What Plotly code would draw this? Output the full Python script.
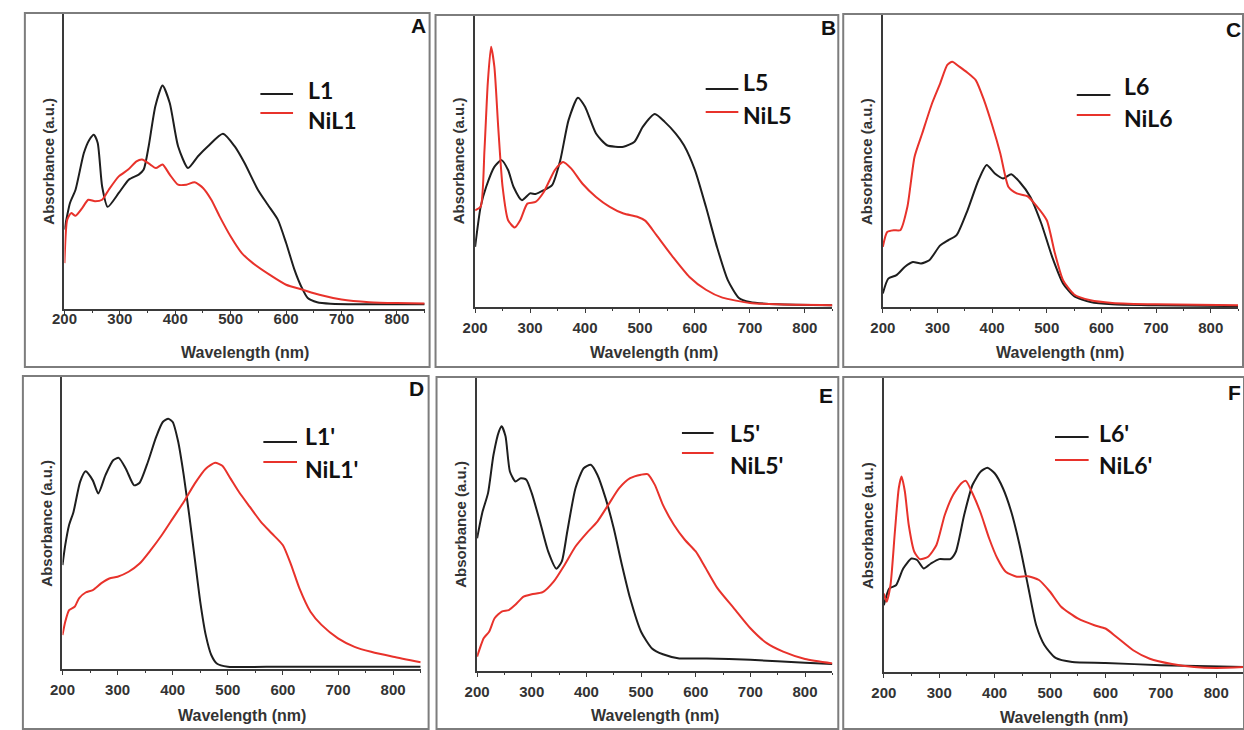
import plotly.graph_objects as go

# ---------------- DATA ----------------
# Panel A
A_L1_nm = [200, 210, 220, 235, 245, 253, 260, 268, 278, 298, 316, 334, 343, 352, 364, 377, 390, 405, 423, 441, 459, 486, 507, 525, 549, 567, 585, 600, 615, 627, 639, 656, 680, 750, 850]
A_L1 = [0.268, 0.358, 0.403, 0.527, 0.572, 0.589, 0.561, 0.414, 0.345, 0.392, 0.437, 0.454, 0.471, 0.550, 0.685, 0.755, 0.696, 0.550, 0.476, 0.516, 0.550, 0.592, 0.550, 0.493, 0.403, 0.352, 0.302, 0.223, 0.133, 0.077, 0.037, 0.023, 0.018, 0.016, 0.016]
A_NiL1_nm = [200, 205, 212, 220, 232, 243, 255, 268, 280, 298, 315, 330, 340, 355, 365, 377, 390, 405, 420, 435, 450, 465, 480, 500, 520, 540, 570, 600, 630, 660, 700, 750, 800, 850]
A_NiL1 = [0.155, 0.302, 0.324, 0.315, 0.341, 0.369, 0.364, 0.369, 0.403, 0.448, 0.471, 0.499, 0.505, 0.488, 0.476, 0.488, 0.454, 0.420, 0.420, 0.428, 0.409, 0.369, 0.313, 0.245, 0.189, 0.155, 0.116, 0.082, 0.065, 0.048, 0.032, 0.023, 0.020, 0.019]

# Panel B
B_L5_nm = [200, 210, 220, 235, 248, 260, 270, 285, 300, 310, 325, 340, 355, 370, 387, 400, 420, 440, 470, 490, 505, 527, 545, 565, 580, 600, 620, 640, 660, 680, 700, 750, 850]
B_L5 = [0.206, 0.343, 0.411, 0.480, 0.503, 0.469, 0.411, 0.366, 0.389, 0.387, 0.400, 0.417, 0.503, 0.640, 0.717, 0.686, 0.594, 0.554, 0.549, 0.566, 0.617, 0.661, 0.634, 0.594, 0.554, 0.469, 0.343, 0.206, 0.091, 0.031, 0.017, 0.009, 0.006]
B_NiL5_nm = [200, 210, 217, 223, 229, 235, 242, 250, 260, 272, 282, 295, 310, 325, 345, 360, 375, 395, 420, 445, 470, 495, 510, 530, 560, 590, 620, 650, 700, 750, 850]
B_NiL5 = [0.331, 0.343, 0.537, 0.766, 0.891, 0.823, 0.617, 0.411, 0.297, 0.272, 0.297, 0.354, 0.360, 0.394, 0.469, 0.497, 0.474, 0.423, 0.377, 0.343, 0.320, 0.309, 0.295, 0.246, 0.171, 0.103, 0.059, 0.032, 0.014, 0.009, 0.006]

# Panel C
C_L6_nm = [200, 210, 225, 240, 255, 270, 285, 305, 320, 335, 355, 375, 390, 405, 420, 435, 450, 470, 490, 510, 530, 550, 580, 620, 700, 850]
C_L6 = [0.046, 0.097, 0.109, 0.137, 0.154, 0.149, 0.160, 0.211, 0.229, 0.246, 0.331, 0.434, 0.486, 0.457, 0.440, 0.455, 0.429, 0.377, 0.286, 0.171, 0.080, 0.037, 0.017, 0.009, 0.006, 0.003]
C_NiL6_nm = [200, 208, 220, 232, 245, 258, 272, 290, 305, 318, 327, 340, 355, 370, 385, 400, 415, 430, 445, 465, 480, 500, 515, 530, 550, 580, 620, 700, 850]
C_NiL6 = [0.206, 0.257, 0.263, 0.263, 0.343, 0.514, 0.594, 0.697, 0.766, 0.829, 0.840, 0.823, 0.802, 0.777, 0.709, 0.623, 0.526, 0.411, 0.389, 0.379, 0.349, 0.297, 0.183, 0.091, 0.043, 0.023, 0.014, 0.009, 0.006]

# Panel D
D_L1p_nm = [200, 205, 212, 220, 232, 242, 255, 265, 278, 292, 302, 315, 330, 340, 355, 370, 382, 392, 400, 410, 420, 430, 440, 450, 460, 470, 480, 500, 600, 850]
D_L1p = [0.356, 0.424, 0.493, 0.538, 0.641, 0.677, 0.646, 0.601, 0.664, 0.715, 0.723, 0.686, 0.629, 0.638, 0.709, 0.795, 0.846, 0.857, 0.846, 0.778, 0.664, 0.527, 0.379, 0.230, 0.116, 0.048, 0.019, 0.008, 0.008, 0.008]
D_NiL1p_nm = [200, 205, 212, 222, 230, 242, 255, 270, 285, 300, 320, 340, 360, 380, 400, 420, 440, 460, 477, 490, 505, 520, 540, 560, 580, 600, 615, 630, 650, 670, 700, 730, 760, 800, 850]
D_NiL1p = [0.116, 0.162, 0.202, 0.213, 0.242, 0.262, 0.270, 0.293, 0.310, 0.316, 0.333, 0.361, 0.407, 0.458, 0.515, 0.572, 0.635, 0.686, 0.706, 0.696, 0.652, 0.607, 0.555, 0.504, 0.464, 0.424, 0.356, 0.276, 0.196, 0.151, 0.105, 0.076, 0.059, 0.042, 0.023]

# Panel E
E_L5p_nm = [200, 210, 220, 230, 240, 245, 252, 260, 270, 280, 290, 300, 315, 330, 345, 355, 365, 380, 395, 408, 420, 435, 450, 465, 480, 500, 520, 540, 570, 620, 700, 800, 850]
E_L5p = [0.453, 0.544, 0.607, 0.738, 0.818, 0.835, 0.801, 0.681, 0.647, 0.658, 0.653, 0.607, 0.510, 0.408, 0.349, 0.374, 0.476, 0.624, 0.692, 0.704, 0.670, 0.590, 0.487, 0.362, 0.248, 0.134, 0.077, 0.057, 0.043, 0.043, 0.038, 0.028, 0.024]
E_NiL5p_nm = [200, 205, 212, 222, 232, 245, 258, 270, 285, 300, 320, 340, 360, 380, 400, 420, 440, 460, 480, 500, 512, 525, 540, 560, 580, 600, 615, 640, 670, 700, 730, 760, 800, 850]
E_NiL5p = [0.049, 0.077, 0.112, 0.134, 0.180, 0.203, 0.208, 0.226, 0.254, 0.262, 0.269, 0.305, 0.362, 0.425, 0.470, 0.510, 0.567, 0.624, 0.658, 0.670, 0.672, 0.636, 0.567, 0.499, 0.448, 0.408, 0.362, 0.282, 0.214, 0.146, 0.095, 0.066, 0.041, 0.026]

# Panel F
F_L6p_nm = [200, 210, 222, 235, 250, 260, 272, 285, 300, 320, 330, 345, 360, 375, 387, 400, 415, 430, 445, 460, 475, 490, 510, 540, 600, 700, 850]
F_L6p = [0.227, 0.284, 0.295, 0.352, 0.386, 0.381, 0.352, 0.369, 0.384, 0.384, 0.409, 0.534, 0.636, 0.682, 0.695, 0.676, 0.625, 0.545, 0.432, 0.295, 0.159, 0.091, 0.048, 0.034, 0.031, 0.023, 0.017]
F_NiL6p_nm = [200, 205, 212, 220, 227, 232, 238, 245, 255, 265, 280, 295, 310, 325, 340, 348, 360, 375, 390, 405, 420, 440, 460, 480, 500, 520, 550, 580, 600, 620, 650, 680, 720, 760, 800, 850]
F_NiL6p = [0.267, 0.239, 0.295, 0.477, 0.625, 0.665, 0.614, 0.500, 0.409, 0.384, 0.392, 0.432, 0.534, 0.602, 0.642, 0.650, 0.608, 0.540, 0.455, 0.386, 0.341, 0.324, 0.326, 0.313, 0.273, 0.222, 0.182, 0.159, 0.148, 0.119, 0.074, 0.045, 0.027, 0.017, 0.014, 0.017]

panel_letters = ["A", "B", "C", "D", "E", "F"]
black_names = ["L1", "L5", "L6", "L1'", "L5'", "L6'"]
red_names = ["NiL1", "NiL5", "NiL6", "NiL1'", "NiL5'", "NiL6'"]
x_ticks = [200, 300, 400, 500, 600, 700, 800]
x_title = "Wavelength (nm)"
y_title = "Absorbance (a.u.)"

series = [
    (A_L1_nm, A_L1, A_NiL1_nm, A_NiL1),
    (B_L5_nm, B_L5, B_NiL5_nm, B_NiL5),
    (C_L6_nm, C_L6, C_NiL6_nm, C_NiL6),
    (D_L1p_nm, D_L1p, D_NiL1p_nm, D_NiL1p),
    (E_L5p_nm, E_L5p, E_NiL5p_nm, E_NiL5p),
    (F_L6p_nm, F_L6p, F_NiL6p_nm, F_NiL6p),
]

# ---------------- LAYOUT (pixel geometry) ----------------
W, H = 1244, 730
panels = [
    dict(plot=(52, 416, 13, 309), box=(12, 13, 421, 367), lab=(410, 26), standoff=-9, tgap=43,
         leg=(250, 283, 94, 113, 296, 90, 120)),
    dict(plot=(467, 828, 15, 307), box=(427, 15, 834, 367), lab=(824, 28), standoff=2, tgap=45,
         leg=(700, 733, 89, 112, 736, 82, 115)),
    dict(plot=(879, 1238, 15, 307), box=(839, 14, 1243, 367), lab=(1233, 29), standoff=2, tgap=45,
         leg=(1075, 1109, 95, 115, 1121, 86, 118)),
    dict(plot=(50, 412, 377, 669), box=(10, 376, 420, 729), lab=(408, 388), standoff=2, tgap=46,
         leg=(253, 287, 442, 462, 293, 436, 469)),
    dict(plot=(469, 828, 378, 671), box=(428, 377, 834, 729), lab=(822, 395), standoff=2, tgap=44,
         leg=(676, 708, 433, 453, 723, 433, 465)),
    dict(plot=(880, 1244, 378, 672), box=(839, 377, 1244, 729), lab=(1234, 393), standoff=2, tgap=45,
         leg=(1053, 1087, 437, 460, 1095, 433, 465)),
]

BLACK = "#1e1e1e"
RED = "#e8322b"
AXIS = "#3a3a3a"
BOXC = "#7d7d7d"
FONT = "Liberation Sans"
LEGFONT = "Lato"

def px(x):
    return x / W

def py(y):
    return 1 - y / H

fig = go.Figure()
shapes = []
annotations = []

for i, p in enumerate(panels):
    k = "" if i == 0 else str(i + 1)
    xa, ya = "x" + k, "y" + k
    x0, x1, yt, yb = p["plot"]
    nm_b, v_b, nm_r, v_r = series[i]
    fig.add_trace(go.Scatter(x=nm_b, y=v_b, mode="lines", name=black_names[i],
                             line=dict(color=BLACK, width=2, shape="spline", smoothing=0.6),
                             xaxis=xa, yaxis=ya, showlegend=False))
    fig.add_trace(go.Scatter(x=nm_r, y=v_r, mode="lines", name=red_names[i],
                             line=dict(color=RED, width=2, shape="spline", smoothing=0.6),
                             xaxis=xa, yaxis=ya, showlegend=False))
    fig.layout["xaxis" + k] = dict(
        domain=[px(x0), px(x1)], range=[200, 850], anchor=ya,
        showline=True, linecolor=AXIS, linewidth=1.5, showgrid=False, zeroline=False,
        tickmode="array", tickvals=x_ticks, ticks="outside", ticklen=4, tickwidth=1.2,
        tickcolor=AXIS, ticklabelstandoff=p["standoff"],
        minor=dict(ticks="outside", ticklen=2, tickwidth=1, tickcolor=AXIS, dtick=50, tick0=250),
        tickfont=dict(family=FONT, size=15, color="#333333", weight="bold"),
        fixedrange=True,
    )
    fig.layout["yaxis" + k] = dict(
        domain=[py(yb), py(yt)], range=[0, 1], anchor=xa,
        showline=True, linecolor=AXIS, linewidth=1.5, showgrid=False, zeroline=False,
        showticklabels=False, ticks="", fixedrange=True,
    )
    # panel frame
    l, t, r, b = p["box"]
    shapes.append(dict(type="rect", xref="paper", yref="paper",
                       x0=px(l), x1=px(r), y0=py(b), y1=py(t),
                       line=dict(color=BOXC, width=2)))
    # axis titles
    annotations.append(dict(xref="paper", yref="paper", x=px((x0 + x1) / 2), y=py(yb + p["tgap"]),
                            text=x_title, showarrow=False, xanchor="center", yanchor="middle",
                            font=dict(family=FONT, size=16, color="#333333", weight="bold")))
    annotations.append(dict(xref="paper", yref="paper", x=px(x0 - 17), y=py((yt + yb) / 2),
                            text=y_title, showarrow=False, textangle=-90, xanchor="center",
                            yanchor="middle",
                            font=dict(family=FONT, size=15, color="#333333", weight="bold")))
    # panel letter
    lx, ly = p["lab"]
    annotations.append(dict(xref="paper", yref="paper", x=px(lx), y=py(ly), text=panel_letters[i],
                            showarrow=False, xanchor="center", yanchor="middle",
                            font=dict(family=FONT, size=21, color="#111111", weight="bold")))
    # legend
    lx0, lx1, ly1, ly2, tx, ty1, ty2 = p["leg"]
    shapes.append(dict(type="line", xref="paper", yref="paper", x0=px(lx0), x1=px(lx1),
                       y0=py(ly1), y1=py(ly1), line=dict(color=BLACK, width=2)))
    shapes.append(dict(type="line", xref="paper", yref="paper", x0=px(lx0), x1=px(lx1),
                       y0=py(ly2), y1=py(ly2), line=dict(color=RED, width=2)))
    annotations.append(dict(xref="paper", yref="paper", x=px(tx), y=py(ty1), text=black_names[i],
                            showarrow=False, xanchor="left", yanchor="middle",
                            font=dict(family=LEGFONT, size=23, color="#111111", weight="bold")))
    annotations.append(dict(xref="paper", yref="paper", x=px(tx), y=py(ty2), text=red_names[i],
                            showarrow=False, xanchor="left", yanchor="middle",
                            font=dict(family=LEGFONT, size=23, color="#111111", weight="bold")))

fig.update_layout(width=W, height=H, margin=dict(l=0, r=0, t=0, b=0),
                  paper_bgcolor="white", plot_bgcolor="white",
                  shapes=shapes, annotations=annotations, showlegend=False)

fig.write_html("out.html", include_plotlyjs=True, config={"displayModeBar": False})
